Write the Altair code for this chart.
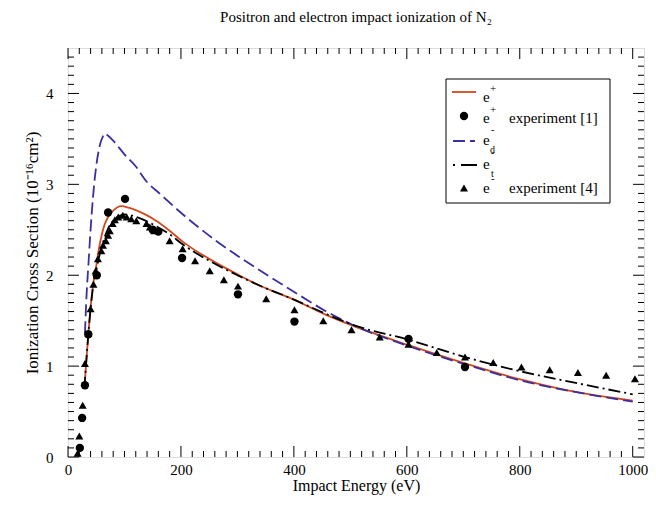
import altair as alt
import pandas as pd

# ---------------- data ----------------
pos_E = [29, 32, 36, 40, 45, 50, 55, 60, 65, 70, 80, 94, 109, 133, 156, 180, 203, 250, 300, 338, 397, 455, 502, 603, 703, 803, 903, 1000]
pos_Y = [0.75, 1.02, 1.35, 1.65, 1.92, 2.10, 2.30, 2.45, 2.56, 2.63, 2.71, 2.76, 2.74, 2.68, 2.60, 2.49, 2.37, 2.18, 2.01, 1.89, 1.74, 1.57, 1.45, 1.23, 1.03, 0.85, 0.71, 0.62]

ed_E = [30, 33, 36, 40, 44, 50, 56, 62, 65, 70, 80, 100, 121, 138, 162, 209, 262, 338, 397, 455, 502, 603, 703, 803, 903, 1000]
ed_Y = [1.36, 1.80, 2.10, 2.50, 2.84, 3.20, 3.42, 3.53, 3.56, 3.54, 3.48, 3.33, 3.19, 3.04, 2.90, 2.64, 2.38, 2.06, 1.83, 1.61, 1.46, 1.22, 1.02, 0.84, 0.71, 0.61]

et_E = [29, 32, 36, 40, 45, 50, 55, 60, 65, 70, 80, 90, 100, 110, 130, 156, 180, 203, 250, 300, 338, 397, 455, 502, 603, 703, 803, 903, 1000]
et_Y = [0.75, 1.02, 1.35, 1.63, 1.90, 2.05, 2.20, 2.32, 2.42, 2.50, 2.60, 2.65, 2.67, 2.66, 2.62, 2.54, 2.45, 2.34, 2.16, 2.00, 1.89, 1.74, 1.58, 1.46, 1.29, 1.10, 0.94, 0.81, 0.69]

pexp_E = [21, 25, 30, 36, 51, 71, 101, 150, 160, 202, 301, 401, 603, 703]
pexp_Y = [0.10, 0.43, 0.79, 1.35, 2.00, 2.69, 2.84, 2.50, 2.48, 2.19, 1.79, 1.49, 1.30, 0.99]

eexp_E = [17, 20, 26, 30, 36, 40, 45, 49, 53, 59, 62, 67, 71, 74, 79, 83, 89, 97, 104, 112, 121, 139, 145, 153, 180, 203, 225, 251, 276, 301, 351, 401, 452, 502, 552, 603, 653, 703, 753, 803, 853, 903, 953, 1004]
eexp_Y = [0.04, 0.23, 0.57, 1.03, 1.36, 1.63, 1.90, 2.05, 2.18, 2.27, 2.33, 2.38, 2.44, 2.49, 2.57, 2.61, 2.64, 2.66, 2.64, 2.62, 2.60, 2.57, 2.53, 2.49, 2.38, 2.29, 2.16, 2.05, 1.95, 1.88, 1.74, 1.62, 1.50, 1.40, 1.32, 1.24, 1.15, 1.10, 1.04, 0.99, 0.96, 0.93, 0.90, 0.86]

x_major = [0, 200, 400, 600, 800, 1000]
y_major = [0, 1, 2, 3, 4]
x_minor = [v for v in range(20, 1020, 20) if v not in x_major]
y_minor = [round(i / 10, 1) for i in range(1, 45) if i % 10 != 0]

# ---------------- layout ----------------
W, H = 576, 409
FONT = "Liberation Serif"
RED = "#d04a20"
BLUE = "#3a30a0"
MAJ, MIN = 11, 6

xs = alt.Scale(domain=[0, 1020], nice=False, zero=False)
ys = alt.Scale(domain=[0, 4.5], nice=False, zero=False)

x_axis = alt.Axis(values=x_major, format="d", ticks=False, domain=False, grid=False, labelFont=FONT,
                  labelFontSize=15, labelColor="black", labelPadding=5, labelFlush=False,
                  labelOverlap=False, title="Impact Energy (eV)", titleFont=FONT,
                  titleFontSize=16, titleFontWeight="normal", titleColor="black", titlePadding=0)
y_axis = alt.Axis(values=y_major, format="d", ticks=False, domain=False, grid=False, labelFont=FONT,
                  labelFontSize=15, labelColor="black", labelPadding=15, labelFlush=False,
                  labelOverlap=False, title="Ionization Cross Section (10⁻¹⁶cm²)", titleFont=FONT,
                  titleFontSize=17, titleFontWeight="normal", titleColor="black", titlePadding=4)

X = lambda f: alt.X(f, scale=xs, axis=x_axis)
Y = lambda f: alt.Y(f, scale=ys, axis=y_axis)

def curve(E, Yv, color, dash=None):
    df = pd.DataFrame({"E": E, "Y": Yv})
    kw = dict(color=color, strokeWidth=1.8, interpolate="monotone")
    if dash:
        kw["strokeDash"] = dash
    return alt.Chart(df).mark_line(**kw).encode(x=X("E:Q"), y=Y("Y:Q"))

def points(E, Yv, shape, size):
    df = pd.DataFrame({"E": E, "Y": Yv})
    return alt.Chart(df).mark_point(shape=shape, filled=True, size=size, color="black",
                                    opacity=1, strokeWidth=0).encode(x=X("E:Q"), y=Y("Y:Q"))

def xticks(vals, length):
    df = pd.DataFrame({"v": vals})
    bot = alt.Chart(df).mark_rule(color="black", strokeWidth=1).encode(
        x=X("v:Q"), y=alt.value(H), y2=alt.value(H - length))
    top = alt.Chart(df).mark_rule(color="black", strokeWidth=1).encode(
        x=X("v:Q"), y=alt.value(0), y2=alt.value(length))
    return [bot, top]

def yticks(vals, length):
    df = pd.DataFrame({"v": vals})
    left = alt.Chart(df).mark_rule(color="black", strokeWidth=1).encode(
        y=Y("v:Q"), x=alt.value(0), x2=alt.value(length))
    right = alt.Chart(df).mark_rule(color="black", strokeWidth=1).encode(
        y=Y("v:Q"), x=alt.value(W), x2=alt.value(W - length))
    return [left, right]

one = pd.DataFrame({"a": [0]})

def txt(s, x, y, size=15):
    return alt.Chart(one).mark_text(text=s, font=FONT, fontSize=size, color="black",
                                    align="left", baseline="alphabetic").encode(
        x=alt.value(x), y=alt.value(y))

def lrule(y, color, dash=None, x1=384, x2=408):
    kw = dict(color=color, strokeWidth=1.8)
    if dash:
        kw["strokeDash"] = dash
    return alt.Chart(one).mark_rule(**kw).encode(x=alt.value(x1), x2=alt.value(x2), y=alt.value(y))

def lpoint(y, shape, size):
    return alt.Chart(one).mark_point(shape=shape, filled=True, size=size, color="black",
                                     opacity=1, strokeWidth=0).encode(x=alt.value(396), y=alt.value(y))

legend_box = alt.Chart(one).mark_rect(fill="white", stroke="black", strokeWidth=1).encode(
    x=alt.value(378), x2=alt.value(542), y=alt.value(31), y2=alt.value(155))

legend = [
    legend_box,
    lrule(44, RED),
    txt("e", 415, 54), txt("+", 422, 44, 11),
    lpoint(68, "circle", 70),
    txt("e", 415, 75), txt("+", 422, 65, 11), txt("experiment [1]", 441, 75),
    lrule(93, BLUE, [12, 5], 385, 407),
    txt("e", 415, 97), txt("-", 423, 85, 10), txt("d", 422, 105, 10),
    lrule(117, "black", [2, 6, 16, 100], 385, 409),
    txt("e", 415, 121), txt("-", 423, 108, 10), txt("t", 423, 129, 10),
    lpoint(140, "triangle-up", 65),
    txt("e", 415, 145), txt("-", 423, 134, 11), txt("experiment [4]", 441, 145),
]

layers = (
    [curve(pos_E, pos_Y, RED),
     curve(ed_E, ed_Y, BLUE, [12, 5]),
     curve(et_E, et_Y, "black", [12, 4, 2, 4]),
     points(pexp_E, pexp_Y, "circle", 70),
     points(eexp_E, eexp_Y, "triangle-up", 65)]
    + xticks(x_major, MAJ) + xticks(x_minor, MIN)
    + yticks(y_major, MAJ) + yticks(y_minor, MIN)
    + legend
)

chart = alt.layer(*layers).properties(
    width=W, height=H,
    title=alt.TitleParams(text="Positron and electron impact ionization of N₂", font=FONT,
                          fontSize=15, fontWeight="normal", color="black", anchor="middle",
                          offset=23),
    autosize=alt.AutoSizeParams(type="none"),
    padding={"left": 60, "top": 40, "right": 4, "bottom": 39},
).configure_view(stroke="black", strokeWidth=1.2).configure(background="white")

chart.save("out.html", embed_options={"renderer": "svg", "actions": False})
